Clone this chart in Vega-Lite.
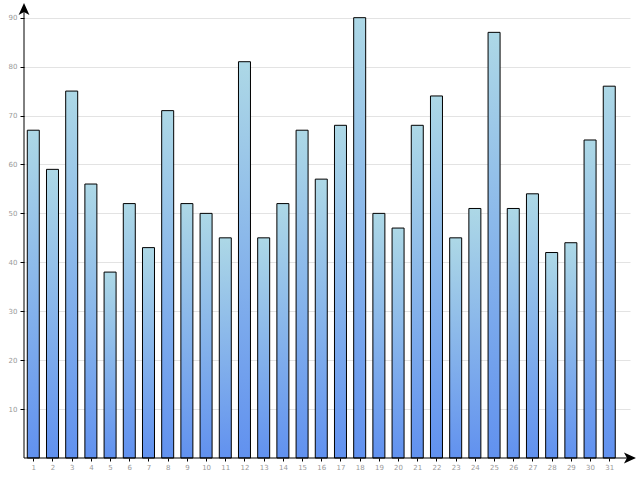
{
  "$schema": "https://vega.github.io/schema/vega-lite/v6.json",
  "autosize": "none",
  "width": 606,
  "height": 455,
  "padding": {"left": 24, "top": 3, "right": 10, "bottom": 22},
  "background": "white",
  "config": {
    "view": {"stroke": null},
    "font": "DejaVu Sans",
    "axis": {"labelOverlap": false, "labelFontSize": 7, "labelColor": "#999999"},
    "axisX": {"labelOverlap": false, "labelFlush": false, "labelBound": false}
  },
  "layer": [
    {
      "data": {"values": [
        {"day": 1, "value": 67}, {"day": 2, "value": 59}, {"day": 3, "value": 75},
        {"day": 4, "value": 56}, {"day": 5, "value": 38}, {"day": 6, "value": 52},
        {"day": 7, "value": 43}, {"day": 8, "value": 71}, {"day": 9, "value": 52},
        {"day": 10, "value": 50}, {"day": 11, "value": 45}, {"day": 12, "value": 81},
        {"day": 13, "value": 45}, {"day": 14, "value": 52}, {"day": 15, "value": 67},
        {"day": 16, "value": 57}, {"day": 17, "value": 68}, {"day": 18, "value": 90},
        {"day": 19, "value": 50}, {"day": 20, "value": 47}, {"day": 21, "value": 68},
        {"day": 22, "value": 74}, {"day": 23, "value": 45}, {"day": 24, "value": 51},
        {"day": 25, "value": 87}, {"day": 26, "value": 51}, {"day": 27, "value": 54},
        {"day": 28, "value": 42}, {"day": 29, "value": 44}, {"day": 30, "value": 65},
        {"day": 31, "value": 76}
      ]},
      "mark": {
        "type": "bar",
        "width": 12,
        "stroke": "black",
        "strokeWidth": 1,
        "fill": {
          "gradient": "linear",
          "x1": 0, "y1": 0, "x2": 0, "y2": 1,
          "stops": [
            {"offset": 0, "color": "#add8e6"},
            {"offset": 1, "color": "#6191ef"}
          ]
        }
      },
      "encoding": {
        "x": {
          "field": "day", "type": "quantitative",
          "scale": {"domain": [0.516, 32.08], "nice": false, "zero": false, "padding": 0},
          "axis": {
            "title": null, "values": [1,2,3,4,5,6,7,8,9,10,11,12,13,14,15,16,17,18,19,20,21,22,23,24,25,26,27,28,29,30,31],
            "tickCount": 31,
            "grid": false, "domain": false, "tickColor": "black", "tickSize": 3,
            "labelFontSize": 7, "labelColor": "#999999", "labelPadding": 2,
            "labelOverlap": false, "labelBound": false, "labelFlush": false
          }
        },
        "y": {
          "field": "value", "type": "quantitative",
          "scale": {"domain": [0, 93], "nice": false, "padding": 0},
          "axis": {
            "title": null, "values": [10,20,30,40,50,60,70,80,90],
            "grid": true, "gridColor": "#e3e3e3", "domain": false,
            "tickColor": "black", "tickSize": 4,
            "labelFontSize": 7, "labelColor": "#999999", "labelPadding": 3,
            "labelOverlap": false
          }
        }
      }
    },
    {
      "data": {"values": [
        {"x1": 0.516, "x2": 32.3, "y1": 0, "y2": 0},
        {"x1": 0.516, "x2": 0.516, "y1": 0, "y2": 92}
      ]},
      "mark": {"type": "rule", "color": "black", "strokeWidth": 1},
      "encoding": {
        "x": {"field": "x1", "type": "quantitative"},
        "x2": {"field": "x2"},
        "y": {"field": "y1", "type": "quantitative"},
        "y2": {"field": "y2"}
      }
    },
    {
      "data": {"values": [{"x": 32.39, "y": 0}]},
      "mark": {"type": "point", "shape": "M0,0 L-2,-0.9 L-1.5,0 L-2,0.9 Z", "filled": true, "color": "black", "size": 144, "opacity": 1},
      "encoding": {
        "x": {"field": "x", "type": "quantitative"},
        "y": {"field": "y", "type": "quantitative"}
      }
    },
    {
      "data": {"values": [{"x": 0.516, "y": 93}]},
      "mark": {"type": "point", "shape": "M0,0 L-0.9,2 L0,1.5 L0.9,2 Z", "filled": true, "color": "black", "size": 144, "opacity": 1},
      "encoding": {
        "x": {"field": "x", "type": "quantitative"},
        "y": {"field": "y", "type": "quantitative"}
      }
    }
  ]
}
